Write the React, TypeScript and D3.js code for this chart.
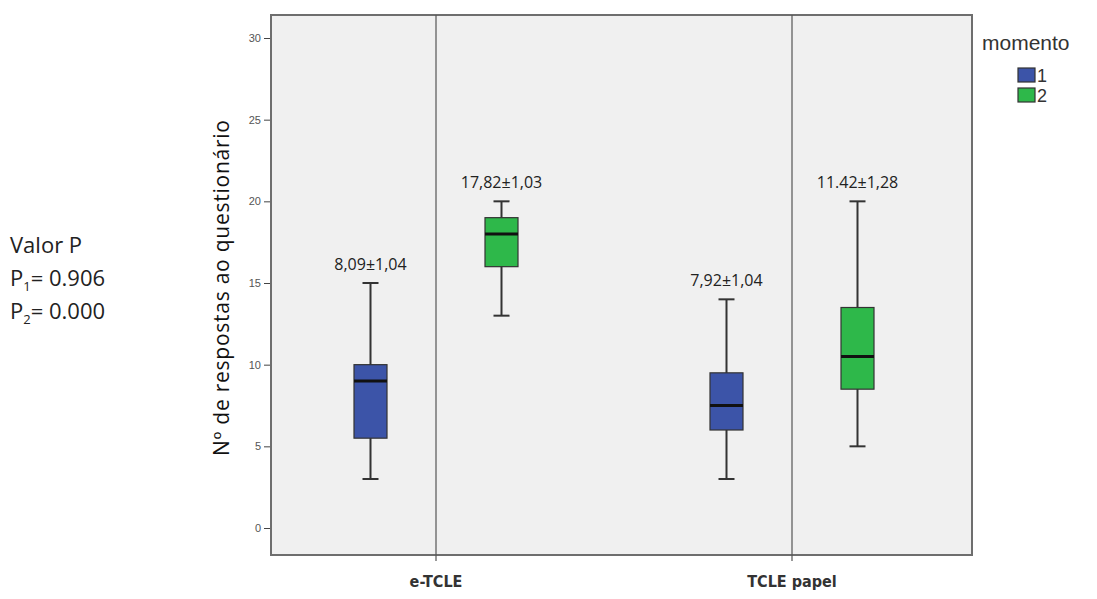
import { useEffect, useRef } from "react";
import * as d3 from "d3";

// dados
const categorias = ["e-TCLE", "TCLE papel"];
const momentos = ["1", "2"];
const coresMomento = ["#3c54a8", "#2eb84a"];
// [categoria][momento]
const minimos = [[3, 13], [3, 5]];
const q1s = [[5.5, 16], [6, 8.5]];
const medianas = [[9, 18], [7.5, 10.5]];
const q3s = [[10, 19], [9.5, 13.5]];
const maximos = [[15, 20], [14, 20]];
const rotulos = [["8,09±1,04", "17,82±1,03"], ["7,92±1,04", "11.42±1,28"]];
const yTicks = [0, 5, 10, 15, 20, 25, 30];

export default function App() {
  const ref = useRef<SVGSVGElement>(null);

  useEffect(() => {
    const svg = d3.select(ref.current);
    svg.selectAll("*").remove();

    const left = 271, right = 972, top = 15, bottom = 555;
    const y = d3.scaleLinear().domain([0, 30]).range([528, 38]);
    const x = d3.scalePoint<string>().domain(categorias).range([436, 792]);
    const xm = d3.scalePoint<string>().domain(momentos).range([-65.5, 65.5]);
    const boxW = 33;

    // fundo do gráfico
    svg.append("rect")
      .attr("x", left).attr("y", top)
      .attr("width", right - left).attr("height", bottom - top)
      .attr("fill", "#f0f0f0")
      .attr("stroke", "#6e6e6e").attr("stroke-width", 2);

    // linhas das categorias
    categorias.forEach((c) => {
      svg.append("line")
        .attr("x1", x(c)!).attr("x2", x(c)!)
        .attr("y1", top).attr("y2", bottom + 6)
        .attr("stroke", "#555").attr("stroke-width", 1.2);
      svg.append("text")
        .attr("x", x(c)!).attr("y", 587)
        .attr("text-anchor", "middle")
        .attr("font-family", "'DejaVu Sans Condensed', 'Open Sans', sans-serif")
        .attr("font-stretch", "condensed")
        .attr("font-size", 16).attr("font-weight", "bold")
        .attr("fill", "#333")
        .text(c);
    });

    // eixo y
    const gy = svg.append("g").attr("transform", `translate(${left - 1},0)`);
    gy.call(d3.axisLeft(y).tickValues(yTicks).tickSize(6).tickPadding(3));
    gy.select(".domain").remove();
    gy.selectAll(".tick line").attr("stroke", "#444");
    gy.selectAll(".tick text")
      .attr("font-family", "Arial, sans-serif")
      .attr("font-size", 11).attr("fill", "#555");

    svg.append("text")
      .attr("transform", `translate(229,288) rotate(-90)`)
      .attr("text-anchor", "middle")
      .attr("font-family", "'Open Sans', sans-serif")
      .attr("font-size", 21).attr("fill", "#111")
      .attr("textLength", 336)
      .text("Nº de respostas ao questionário");

    // boxplots
    categorias.forEach((c, i) => {
      momentos.forEach((m, j) => {
        const cx = x(c)! + xm(m)!;
        const g = svg.append("g");
        g.append("line")
          .attr("x1", cx).attr("x2", cx)
          .attr("y1", y(minimos[i][j])).attr("y2", y(maximos[i][j]))
          .attr("stroke", "#333").attr("stroke-width", 2);
        [minimos[i][j], maximos[i][j]].forEach((v) => {
          g.append("line")
            .attr("x1", cx - 8).attr("x2", cx + 8)
            .attr("y1", y(v)).attr("y2", y(v))
            .attr("stroke", "#333").attr("stroke-width", 2);
        });
        g.append("rect")
          .attr("x", cx - boxW / 2).attr("y", y(q3s[i][j]))
          .attr("width", boxW).attr("height", y(q1s[i][j]) - y(q3s[i][j]))
          .attr("fill", coresMomento[j])
          .attr("stroke", "#333").attr("stroke-width", 1.2);
        g.append("line")
          .attr("x1", cx - boxW / 2).attr("x2", cx + boxW / 2)
          .attr("y1", y(medianas[i][j])).attr("y2", y(medianas[i][j]))
          .attr("stroke", "#111").attr("stroke-width", 3);
        g.append("text")
          .attr("x", cx).attr("y", y(maximos[i][j]) - 13)
          .attr("text-anchor", "middle")
          .attr("font-family", "'Open Sans', sans-serif")
          .attr("font-size", 16).attr("fill", "#222")
          .text(rotulos[i][j]);
      });
    });

    // legenda
    svg.append("text")
      .attr("x", 982).attr("y", 50)
      .attr("font-family", "'Liberation Sans', Arial, sans-serif")
      .attr("font-size", 21).attr("fill", "#333")
      .text("momento");
    momentos.forEach((m, j) => {
      svg.append("rect")
        .attr("x", 1018).attr("y", 68 + j * 20)
        .attr("width", 17).attr("height", 14)
        .attr("fill", coresMomento[j])
        .attr("stroke", "#333").attr("stroke-width", 1.2);
      svg.append("text")
        .attr("x", 1037).attr("y", 82 + j * 20)
        .attr("font-family", "'Liberation Sans', Arial, sans-serif")
        .attr("font-size", 18).attr("fill", "#333")
        .text(m);
    });

    // valores de P
    const pTxt = svg.append("g")
      .attr("font-family", "'Open Sans', sans-serif")
      .attr("font-size", 22).attr("fill", "#222");
    pTxt.append("text").attr("x", 10).attr("y", 253).text("Valor P");
    [["1", "0.906"], ["2", "0.000"]].forEach(([k, v], j) => {
      const t = pTxt.append("text").attr("x", 10).attr("y", 286 + j * 33);
      t.append("tspan").text("P");
      t.append("tspan").attr("font-size", 13).attr("dy", 5).text(k);
      t.append("tspan").attr("dy", -5).text("= " + v);
    });
  }, []);

  return (
    <svg
      ref={ref}
      width={1097}
      height={599}
      style={{ position: "absolute", left: 0, top: 0, background: "#fff" }}
    />
  );
}
